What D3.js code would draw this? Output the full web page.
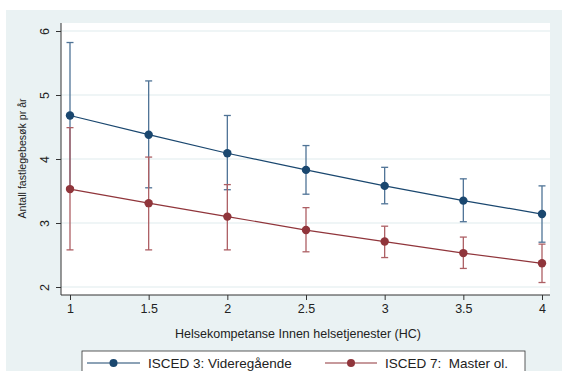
<!DOCTYPE html>
<html><head><meta charset="utf-8">
<script src="https://cdn.jsdelivr.net/npm/d3@7"></script>
<style>body{margin:0;background:#fff;}svg{display:block;font-family:"Liberation Sans",Arial,sans-serif;}</style>
</head><body>
<svg id="chart" width="562" height="371"></svg>
<script>
const xValues = [1, 1.5, 2, 2.5, 3, 3.5, 4];
const seriesNames = ["ISCED 3: Videregående", "ISCED 7:  Master ol."];
const isced3Mean = [4.68, 4.38, 4.09, 3.83, 3.58, 3.35, 3.14];
const isced3Upper = [5.82, 5.22, 4.68, 4.21, 3.87, 3.69, 3.58];
const isced3Lower = [3.55, 3.55, 3.52, 3.45, 3.30, 3.02, 2.70];
const isced7Mean = [3.53, 3.31, 3.10, 2.89, 2.71, 2.53, 2.37];
const isced7Upper = [4.49, 4.03, 3.60, 3.24, 2.95, 2.78, 2.67];
const isced7Lower = [2.58, 2.58, 2.58, 2.55, 2.46, 2.29, 2.07];
const xTicks = [1, 1.5, 2, 2.5, 3, 3.5, 4];
const yTicks = [2, 3, 4, 5, 6];
const xTitle = "Helsekompetanse Innen helsetjenester (HC)";
const yTitle = "Antall fastlegebesøk pr år";

const svg = d3.select("#chart");
const bg = "#eaf2f3";
svg.append("rect").attr("x", 6).attr("y", 10).attr("width", 556).attr("height", 361).attr("fill", bg);
svg.append("rect").attr("x", 61).attr("y", 23).attr("width", 489).attr("height", 272).attr("fill", "#fff");

const x = d3.scaleLinear().domain([1, 4]).range([70, 542]);
const y = d3.scaleLinear().domain([2, 6]).range([287, 31]);

// grid
svg.append("g").selectAll("line").data(yTicks).join("line")
  .attr("x1", 61).attr("x2", 550).attr("y1", d => y(d)).attr("y2", d => y(d))
  .attr("stroke", bg).attr("stroke-width", 1.5);

// axes
const yAxis = svg.append("g").attr("transform", "translate(61,0)")
  .call(d3.axisLeft(y).tickValues(yTicks).tickSize(5).tickPadding(4).tickFormat(d3.format("d")));
yAxis.select(".domain").attr("stroke", "#333").attr("d", "M0,23V295");
yAxis.selectAll(".tick line").attr("stroke", "#333");
yAxis.selectAll(".tick text").attr("font-size", 12.5).attr("fill", "#222")
  .attr("text-anchor", "middle")
  .attr("transform", "translate(-16,0) rotate(-90)").attr("x", 0).attr("y", 0).attr("dy", "0.35em");

const xAxis = svg.append("g").attr("transform", "translate(0,295)")
  .call(d3.axisBottom(x).tickValues(xTicks).tickSize(5).tickPadding(4).tickFormat(d => String(d)));
xAxis.select(".domain").attr("stroke", "#333").attr("d", "M61,0H550");
xAxis.selectAll(".tick line").attr("stroke", "#333");
xAxis.selectAll(".tick text").attr("font-size", 12.5).attr("fill", "#222");

svg.append("text").attr("x", 298).attr("y", 338).attr("text-anchor", "middle")
  .attr("font-size", 12.5).attr("fill", "#222").text(xTitle);
svg.append("text").attr("transform", "translate(25.5,158.5) rotate(-90)").attr("text-anchor", "middle")
  .attr("font-size", 10.6).attr("fill", "#222").text(yTitle);

const series = [
  {mean: isced3Mean, up: isced3Upper, lo: isced3Lower, color: "#1a476f", ci: "#4f7396"},
  {mean: isced7Mean, up: isced7Upper, lo: isced7Lower, color: "#90353b", ci: "#ad5f64"}
];

series.forEach(s => {
  const g = svg.append("g");
  xValues.forEach((xv, i) => {
    g.append("line").attr("x1", x(xv)).attr("x2", x(xv)).attr("y1", y(s.up[i])).attr("y2", y(s.lo[i]))
      .attr("stroke", s.ci).attr("stroke-width", 1.3);
    [s.up[i], s.lo[i]].forEach(v => g.append("line").attr("x1", x(xv) - 3.5).attr("x2", x(xv) + 3.5)
      .attr("y1", y(v)).attr("y2", y(v)).attr("stroke", s.ci).attr("stroke-width", 1.3));
  });
});
series.forEach(s => {
  const line = d3.line().x((d, i) => x(xValues[i])).y(d => y(d));
  svg.append("path").attr("d", line(s.mean)).attr("fill", "none").attr("stroke", s.color).attr("stroke-width", 1.2);
  svg.append("g").selectAll("circle").data(s.mean).join("circle")
    .attr("cx", (d, i) => x(xValues[i])).attr("cy", d => y(d)).attr("r", 4.2).attr("fill", s.color);
});

// legend
svg.append("rect").attr("x", 82).attr("y", 351).attr("width", 443).attr("height", 30)
  .attr("fill", "#fff").attr("stroke", "#333").attr("stroke-width", 0.8);
const legX = [[87, 140, 148], [325, 377, 385]];
series.forEach((s, i) => {
  const [a, b, t] = legX[i];
  svg.append("line").attr("x1", a).attr("x2", b).attr("y1", 363).attr("y2", 363).attr("stroke", s.color).attr("stroke-width", 1.2);
  svg.append("circle").attr("cx", (a + b) / 2).attr("cy", 363).attr("r", 4).attr("fill", s.color);
  svg.append("text").attr("x", t).attr("y", 368).attr("font-size", 13.5).attr("fill", "#222")
    .style("white-space", "pre").text(seriesNames[i]);
});
</script>
</body></html>
